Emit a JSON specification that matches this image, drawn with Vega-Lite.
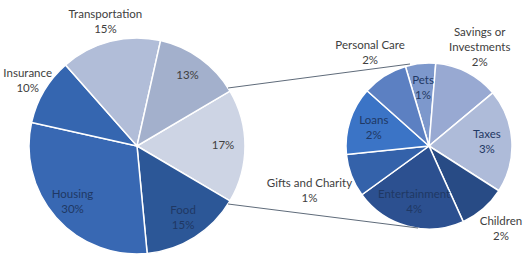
{
  "$schema": "https://vega.github.io/schema/vega-lite/v6.json",
  "width": 525,
  "height": 260,
  "padding": 0,
  "autosize": "none",
  "background": "white",
  "config": {"view": {"stroke": null}, "text": {"font": "Lato", "fontSize": 11.5, "lineHeight": 15, "align": "center", "baseline": "middle", "lineBreak": "\n"}},
  "datasets": {
    "main": [
      {"ord": 1, "name": "Other (detailed)", "value": 17, "label": "17%"},
      {"ord": 2, "name": "Food", "value": 15, "label": "Food\n15%"},
      {"ord": 3, "name": "Housing", "value": 30, "label": "Housing\n30%"},
      {"ord": 4, "name": "Insurance", "value": 10, "label": "Insurance\n10%"},
      {"ord": 5, "name": "Transportation", "value": 15, "label": "Transportation\n15%"},
      {"ord": 6, "name": "Unlabeled", "value": 13, "label": "13%"}
    ],
    "detail": [
      {"ord": 1, "name": "Pets", "value": 1.0, "label": "Pets\n1%"},
      {"ord": 2, "name": "Savings or Investments", "value": 2.15, "label": "Savings or\nInvestments\n2%"},
      {"ord": 3, "name": "Taxes", "value": 3.42, "label": "Taxes\n3%"},
      {"ord": 4, "name": "Children", "value": 1.56, "label": "Children\n2%"},
      {"ord": 5, "name": "Entertainment", "value": 3.7, "label": "Entertainment\n4%"},
      {"ord": 6, "name": "Gifts and Charity", "value": 1.42, "label": "Gifts and Charity\n1%"},
      {"ord": 7, "name": "Loans", "value": 2.25, "label": "Loans\n2%"},
      {"ord": 8, "name": "Personal Care", "value": 1.5, "label": "Personal Care\n2%"}
    ]
  },
  "layer": [
    {
      "data": {"name": "main"},
      "encoding": {
        "x": {"datum": 137, "type": "quantitative", "scale": {"domain": [0, 525]}, "axis": null},
        "y": {"datum": 146, "type": "quantitative", "scale": {"domain": [0, 260], "reverse": true}, "axis": null},
        "theta": {"field": "value", "type": "quantitative", "stack": true, "scale": {"domain": [0, 100], "range": [1.0367, 7.3199]}},
        "order": {"field": "ord", "type": "quantitative"}
      },
      "layer": [
        {
          "mark": {"type": "arc", "outerRadius": 108, "stroke": "white", "strokeWidth": 1.5},
          "encoding": {
            "color": {"field": "name", "type": "nominal", "legend": null,
              "scale": {"domain": ["Other (detailed)", "Food", "Housing", "Insurance", "Transportation", "Unlabeled"],
                        "range": ["#cdd4e4", "#2c5797", "#3868b3", "#3566b0", "#b1bdd8", "#a3b0cc"]}}
          }
        },
        {
          "mark": {"type": "text", "radius": 86, "color": "#404040"},
          "encoding": {
            "text": {"condition": {"test": "indexof(['Other (detailed)','Unlabeled'], datum.name) >= 0", "field": "label"}, "value": ""}
          }
        },
        {
          "mark": {"type": "text", "radius": 86, "dy": -7.5, "color": "#1f3864"},
          "encoding": {
            "text": {"condition": {"test": "indexof(['Food','Housing'], datum.name) >= 0", "field": "label"}, "value": ""}
          }
        },
        {
          "mark": {"type": "text", "radius": 127, "dy": -7.5, "color": "#404040"},
          "encoding": {
            "text": {"condition": {"test": "indexof(['Transportation','Insurance'], datum.name) >= 0", "field": "label"}, "value": ""}
          }
        }
      ]
    },
    {
      "data": {"name": "detail"},
      "encoding": {
        "x": {"datum": 429, "type": "quantitative", "scale": {"domain": [0, 525]}, "axis": null},
        "y": {"datum": 146, "type": "quantitative", "scale": {"domain": [0, 260], "reverse": true}, "axis": null},
        "theta": {"field": "value", "type": "quantitative", "stack": true, "scale": {"domain": [0, 17], "range": [-0.288, 5.9952]}},
        "order": {"field": "ord", "type": "quantitative"}
      },
      "layer": [
        {
          "mark": {"type": "arc", "outerRadius": 83, "stroke": "white", "strokeWidth": 1.5},
          "encoding": {
            "color": {"field": "name", "type": "nominal", "legend": null,
              "scale": {"domain": ["Pets", "Savings or Investments", "Taxes", "Children", "Entertainment", "Gifts and Charity", "Loans", "Personal Care"],
                        "range": ["#7d98cc", "#98a9d2", "#aebbd9", "#284b85", "#2c5090", "#3462aa", "#3b74c6", "#5c80c2"]}}
          }
        },
        {
          "mark": {"type": "text", "radius": 58, "dy": -7.5, "color": "#1f3864"},
          "encoding": {
            "text": {"condition": {"test": "indexof(['Pets','Taxes','Entertainment','Loans'], datum.name) >= 0", "field": "label"}, "value": ""}
          }
        },
        {
          "mark": {"type": "text", "radius": 110, "dy": -15, "color": "#404040"},
          "encoding": {
            "text": {"condition": {"test": "datum.name === 'Savings or Investments'", "field": "label"}, "value": ""}
          }
        },
        {
          "mark": {"type": "text", "radius": 110, "dy": -7.5, "color": "#404040"},
          "encoding": {
            "text": {"condition": {"test": "indexof(['Children','Personal Care'], datum.name) >= 0", "field": "label"}, "value": ""}
          }
        },
        {
          "mark": {"type": "text", "radius": 128, "dy": -7.5, "color": "#404040"},
          "encoding": {
            "text": {"condition": {"test": "datum.name === 'Gifts and Charity'", "field": "label"}, "value": ""}
          }
        }
      ]
    },
    {
      "data": {"name": "main"},
      "transform": [{"filter": "datum.name === 'Other (detailed)'"}],
      "mark": {"type": "rule", "color": "#5f6b7a", "strokeWidth": 1},
      "encoding": {
        "x": {"datum": 228, "type": "quantitative", "scale": {"domain": [0, 525]}, "axis": null},
        "y": {"datum": 88, "type": "quantitative", "scale": {"domain": [0, 260], "reverse": true}, "axis": null},
        "x2": {"datum": 410},
        "y2": {"datum": 64}
      }
    },
    {
      "data": {"name": "main"},
      "transform": [{"filter": "datum.name === 'Other (detailed)'"}],
      "mark": {"type": "rule", "color": "#5f6b7a", "strokeWidth": 1},
      "encoding": {
        "x": {"datum": 228, "type": "quantitative", "scale": {"domain": [0, 525]}, "axis": null},
        "y": {"datum": 204, "type": "quantitative", "scale": {"domain": [0, 260], "reverse": true}, "axis": null},
        "x2": {"datum": 418},
        "y2": {"datum": 228}
      }
    }
  ],
  "resolve": {"scale": {"theta": "independent", "color": "independent"}}
}
